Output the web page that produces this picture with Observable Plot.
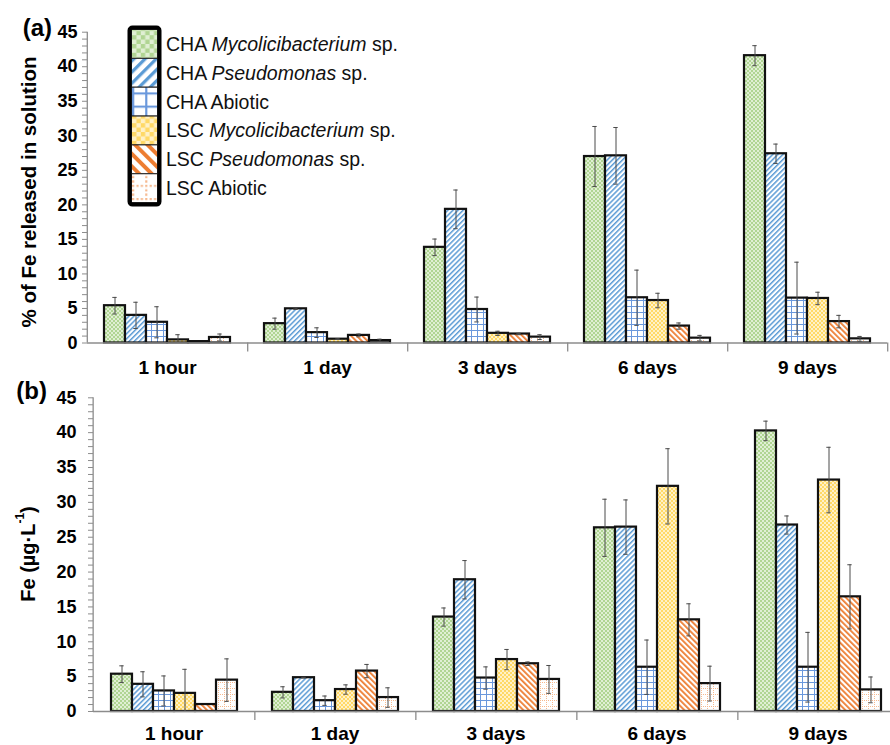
<!DOCTYPE html>
<html><head><meta charset="utf-8">
<script src="https://cdn.jsdelivr.net/npm/d3@7"></script>
<script src="https://cdn.jsdelivr.net/npm/@observablehq/plot@0.6"></script>
<style>
body{margin:0;background:#fff;font-family:"Liberation Sans",Arial,sans-serif;}
#wrap{position:relative;width:890px;height:745px;overflow:hidden;}
#wrap > svg{display:block;}
#overlay{position:absolute;left:0;top:0;pointer-events:none;}
</style></head><body><div id="wrap"></div>
<script>
// ---- data ----
const times = ["1 hour", "1 day", "3 days", "6 days", "9 days"];
const series = ["CHA Mycolicibacterium sp.", "CHA Pseudomonas sp.", "CHA Abiotic",
                "LSC Mycolicibacterium sp.", "LSC Pseudomonas sp.", "LSC Abiotic"];
// (a) % of Fe released in solution — rows: times, cols: series
const pctMean = [
  [5.4, 4.0, 3.0, 0.45, 0.2, 0.8],
  [2.8, 4.95, 1.5, 0.55, 1.1, 0.35],
  [13.85, 19.35, 4.85, 1.4, 1.3, 0.85],
  [27.0, 27.1, 6.55, 6.15, 2.45, 0.7],
  [41.6, 27.4, 6.5, 6.45, 3.1, 0.6]
];
const pctErr = [
  [1.2, 1.9, 2.25, 0.75, 0, 0.5],
  [0.8, 0.1, 0.7, 0.05, 0.2, 0.2],
  [1.2, 2.8, 1.8, 0.3, 0.1, 0.35],
  [4.35, 4.1, 4.0, 1.05, 0.45, 0.4],
  [1.45, 1.4, 5.2, 0.9, 0.9, 0.35]
];
// (b) Fe (µg·L-1)
const feMean = [
  [5.35, 3.9, 2.95, 2.6, 1.0, 4.5],
  [2.75, 4.85, 1.55, 3.15, 5.8, 2.0],
  [13.55, 18.9, 4.8, 7.45, 6.85, 4.6],
  [26.35, 26.45, 6.35, 32.3, 13.15, 4.0],
  [40.25, 26.75, 6.35, 33.2, 16.45, 3.1]
];
const feErr = [
  [1.2, 1.8, 2.15, 3.45, 0, 3.05],
  [0.8, 0.05, 0.67, 0.67, 0.95, 1.4],
  [1.3, 2.75, 1.6, 1.45, 0.25, 2.0],
  [4.1, 3.9, 3.9, 5.4, 2.3, 2.5],
  [1.4, 1.3, 5.0, 4.7, 4.6, 1.85]
];
const yTicksMajor = [0, 5, 10, 15, 20, 25, 30, 35, 40, 45];
const yTicksMinor = d3.range(0, 46, 1);

// ---- patterns ----
const wrap = document.getElementById("wrap");
const overlay = d3.create("svg").attr("id", "overlay").attr("width", 890).attr("height", 745);
const defs = overlay.append("defs");
function makePatterns(prefix, s) {
  let p = defs.append("pattern").attr("id", prefix + 0).attr("width", 4).attr("height", 4)
    .attr("patternUnits", "userSpaceOnUse").attr("patternTransform", `scale(${s})`);
  p.append("rect").attr("width", 4).attr("height", 4).attr("fill", "#e0efd4");
  p.append("rect").attr("width", 2).attr("height", 2).attr("fill", "#b0d593");
  p.append("rect").attr("x", 2).attr("y", 2).attr("width", 2).attr("height", 2).attr("fill", "#b0d593");
  p = defs.append("pattern").attr("id", prefix + 1).attr("width", 3.6).attr("height", 3.6)
    .attr("patternUnits", "userSpaceOnUse").attr("patternTransform", `rotate(45) scale(${s})`);
  p.append("rect").attr("width", 3.6).attr("height", 3.6).attr("fill", "#ffffff");
  p.append("rect").attr("width", 1.5).attr("height", 3.6).attr("fill", "#5b9bd5");
  p = defs.append("pattern").attr("id", prefix + 2).attr("width", 6).attr("height", 6)
    .attr("patternUnits", "userSpaceOnUse").attr("patternTransform", `scale(${s})`);
  p.append("rect").attr("width", 6).attr("height", 6).attr("fill", "#ffffff");
  p.append("path").attr("d", "M0 0.5H6M0.5 0V6").attr("stroke", "#6a98dc").attr("stroke-width", 1);
  p = defs.append("pattern").attr("id", prefix + 3).attr("width", 4).attr("height", 4)
    .attr("patternUnits", "userSpaceOnUse").attr("patternTransform", `scale(${s})`);
  p.append("rect").attr("width", 4).attr("height", 4).attr("fill", "#fff1c8");
  p.append("rect").attr("width", 2).attr("height", 2).attr("fill", "#ffd966");
  p.append("rect").attr("x", 2).attr("y", 2).attr("width", 2).attr("height", 2).attr("fill", "#ffd966");
  p = defs.append("pattern").attr("id", prefix + 4).attr("width", 4).attr("height", 4)
    .attr("patternUnits", "userSpaceOnUse").attr("patternTransform", `rotate(-45) scale(${s})`);
  p.append("rect").attr("width", 4).attr("height", 4).attr("fill", "#ffffff");
  p.append("rect").attr("width", 1.8).attr("height", 4).attr("fill", "#ed7d31");
  p = defs.append("pattern").attr("id", prefix + 5).attr("width", 6).attr("height", 6)
    .attr("patternUnits", "userSpaceOnUse").attr("patternTransform", `scale(${s})`);
  p.append("rect").attr("width", 6).attr("height", 6).attr("fill", "#ffffff");
  p.append("path").attr("d", "M0 0.5H6M0.5 0V6").attr("stroke", "#f6b98f").attr("stroke-width", 1)
    .attr("stroke-dasharray", "1 1");
}
makePatterns("bar", 1);
makePatterns("leg", 2.2);

// ---- panels ----
function table(mean, err) {
  return times.flatMap((t, i) => series.map((s, j) => ({time: t, series: s, value: mean[i][j], err: err[i][j]})));
}
const axisGrey = "#8c8c8c";
function panel({data, height, marginTop, marginBottom, marginLeft, marginRight, labelPad, catPad}) {
  const bw = (890 - marginLeft - marginRight) / times.length;
  const eb = data.filter(d => d.err > 0);
  const lo = d => Math.max(0, d.value - d.err);
  const hi = d => d.value + d.err;
  return Plot.plot({
    width: 890, height, marginTop, marginBottom, marginLeft, marginRight,
    style: {fontFamily: "'Liberation Sans', Arial, sans-serif", background: "transparent", color: "black"},
    fx: {domain: times, padding: 0, label: null},
    x: {domain: series, paddingInner: 0, paddingOuter: 0.75, axis: null},
    y: {domain: [0, 45], label: null},
    color: {domain: series, range: series.map((s, j) => `url(#bar${j})`)},
    marks: [
      Plot.axisFx({anchor: "bottom", tickSize: 0, tickPadding: catPad, fontSize: 19, fontWeight: "bold", label: null}),
      Plot.axisY({ticks: yTicksMinor, tickSize: 5, tickFormat: () => "", stroke: axisGrey, label: null}),
      Plot.axisY({ticks: yTicksMajor, tickSize: 0, tickPadding: labelPad, fontSize: 18, fontWeight: "bold", label: null}),
      Plot.barY(data, {fx: "time", x: "series", y: "value", fill: "series", stroke: "#111", strokeWidth: 2.2}),
      Plot.ruleX(eb, {fx: "time", x: "series", y1: lo, y2: hi, stroke: "#4a4a4a", strokeWidth: 1}),
      Plot.tickY(eb.filter(d => d.value - d.err > 0), {fx: "time", x: "series", y: lo, stroke: "#4a4a4a", strokeWidth: 1, insetLeft: 8.3, insetRight: 8.3}),
      Plot.tickY(eb, {fx: "time", x: "series", y: hi, stroke: "#4a4a4a", strokeWidth: 1, insetLeft: 8.3, insetRight: 8.3}),
      Plot.ruleY([0], {stroke: axisGrey, strokeWidth: 1.3}),
      Plot.ruleX(times.slice(0, 1), {fx: d => d, x: null, y1: 0, y2: 45, dx: -bw / 2, stroke: axisGrey, strokeWidth: 1.3}),
      Plot.ruleX(times, {fx: d => d, x: null, y1: 0, y2: -1.3, dx: bw / 2, stroke: axisGrey, strokeWidth: 1.3})
    ]
  });
}

wrap.appendChild(panel({data: table(pctMean, pctErr), height: 382, marginTop: 31.7, marginBottom: 39.5,
  marginLeft: 86, marginRight: 2, labelPad: 10, catPad: 17}));
wrap.appendChild(panel({data: table(feMean, feErr), height: 363, marginTop: 15.3, marginBottom: 34,
  marginLeft: 91, marginRight: -9.5, labelPad: 17, catPad: 15}));

// ---- overlay texts & legend ----
const ff = "'Liberation Sans', Arial, sans-serif";
overlay.append("text").attr("x", 52).attr("y", 36).attr("text-anchor", "end").attr("font-family", ff)
  .attr("font-size", 24).attr("font-weight", "bold").text("(a)");
overlay.append("text").attr("x", 47).attr("y", 399).attr("text-anchor", "end").attr("font-family", ff)
  .attr("font-size", 24).attr("font-weight", "bold").text("(b)");
overlay.append("text").attr("transform", "translate(28,192) rotate(-90)").attr("text-anchor", "middle")
  .attr("dominant-baseline", "central").attr("font-family", ff).attr("font-size", 20.5).attr("font-weight", "bold")
  .text("% of Fe released in solution");
const tb = overlay.append("text").attr("transform", "translate(28,554) rotate(-90)").attr("text-anchor", "middle")
  .attr("dominant-baseline", "central").attr("font-family", ff).attr("font-size", 20).attr("font-weight", "bold");
tb.append("tspan").text("Fe (µg·L");
tb.append("tspan").attr("font-size", 12).attr("dy", -8).text("-1");
tb.append("tspan").attr("dy", 8).text(")");

const leg = overlay.append("g");
const y0 = 29.5, pitch = 28.85;
series.forEach((s, j) => {
  leg.append("rect").attr("x", 131.5).attr("y", y0 + j * pitch).attr("width", 26).attr("height", pitch)
    .attr("fill", `url(#leg${j})`).attr("stroke", "#222").attr("stroke-width", 1);
  const parts = s.split(" ");
  const t = leg.append("text").attr("x", 166).attr("y", y0 + j * pitch + pitch / 2 + 7)
    .attr("font-family", ff).attr("font-size", 19.5).attr("fill", "#111");
  if (parts.length === 3) {
    t.append("tspan").text(parts[0] + " ");
    t.append("tspan").attr("font-style", "italic").text(parts[1]);
    t.append("tspan").text(" " + parts[2]);
  } else {
    t.append("tspan").text(s);
  }
});
leg.append("rect").attr("x", 129.5).attr("y", 27.5).attr("width", 30).attr("height", 6 * pitch + 4)
  .attr("rx", 3).attr("fill", "none").attr("stroke", "#000").attr("stroke-width", 4);

wrap.appendChild(overlay.node());
</script></body></html>
